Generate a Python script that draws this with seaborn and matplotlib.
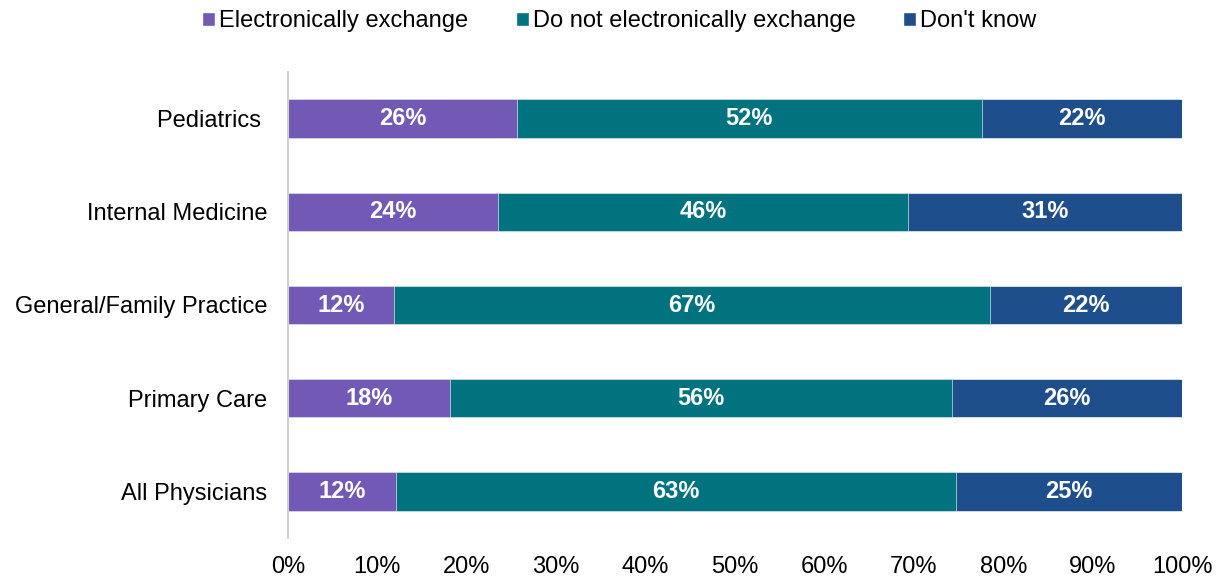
import numpy as np
import pandas as pd
import matplotlib
matplotlib.use("Agg")
import matplotlib.pyplot as plt
import seaborn as sns
from matplotlib.patches import Patch

sns.set_style("white")
plt.rcParams["font.family"] = ["Liberation Sans", "DejaVu Sans"]

# Data (percent of physicians)
categories = ["Pediatrics ", "Internal Medicine", "General/Family Practice",
              "Primary Care", "All Physicians"]
exchange = [25.6, 23.5, 11.9, 18.1, 12.1]
no_exchange = [52.0, 45.9, 66.6, 56.2, 62.6]
dont_know = [22.4, 30.6, 21.5, 25.7, 25.3]
series_names = ["Electronically exchange", "Do not electronically exchange", "Don't know"]
colors = ["#7159B5", "#00737F", "#1F4E8D"]
xticks = [0, 10, 20, 30, 40, 50, 60, 70, 80, 90, 100]

df = pd.DataFrame({"category": categories, "exchange": exchange,
                   "no_exchange": no_exchange, "dont_know": dont_know})
df["c1"] = df["exchange"]
df["c2"] = df["c1"] + df["no_exchange"]
df["c3"] = df["c2"] + df["dont_know"]

fig = plt.figure(figsize=(12.18, 5.78), dpi=100)
ax = fig.add_axes([288 / 1218, 1 - 538 / 578, (1182 - 288) / 1218, (538 - 72) / 578])

# stacked bars drawn as overlapping cumulative totals
for col, color in zip(["c3", "c2", "c1"], colors[::-1]):
    sns.barplot(data=df, x=col, y="category", color=color, orient="h",
                width=0.41, ax=ax, saturation=1, edgecolor="white", linewidth=0.4)

# value labels
for i, row in df.iterrows():
    starts = [0, row["c1"], row["c2"]]
    vals = [row["exchange"], row["no_exchange"], row["dont_know"]]
    for s, v in zip(starts, vals):
        ax.text(s + v / 2, i, f"{round(v)}%", ha="center", va="center",
                color="white", fontsize=17, fontweight="bold")

ax.set_xlim(0, 100)
ax.set_ylim(4.5, -0.5)
ax.set_xticks(xticks)
ax.set_xticklabels([f"{t}%" for t in xticks])
ax.set_xlabel("")
ax.set_ylabel("")
ax.tick_params(axis="both", length=0, labelsize=17, labelcolor="black")
ax.tick_params(axis="y", pad=15)
ax.tick_params(axis="x", pad=13)
for side in ["top", "right", "bottom"]:
    ax.spines[side].set_visible(False)
ax.spines["left"].set_color("#D0D0D0")
ax.spines["left"].set_linewidth(1.5)

handles = [Patch(facecolor=c, label=n) for c, n in zip(colors, series_names)]
fig.legend(handles=handles, loc="center", bbox_to_anchor=(619 / 1218, 1 - 21 / 578),
           ncol=3, frameon=False, fontsize=17, handlelength=0.55, handleheight=0.55,
           handletextpad=0.17, columnspacing=2.0, labelcolor="black")

fig.savefig("out.png", dpi=100)
